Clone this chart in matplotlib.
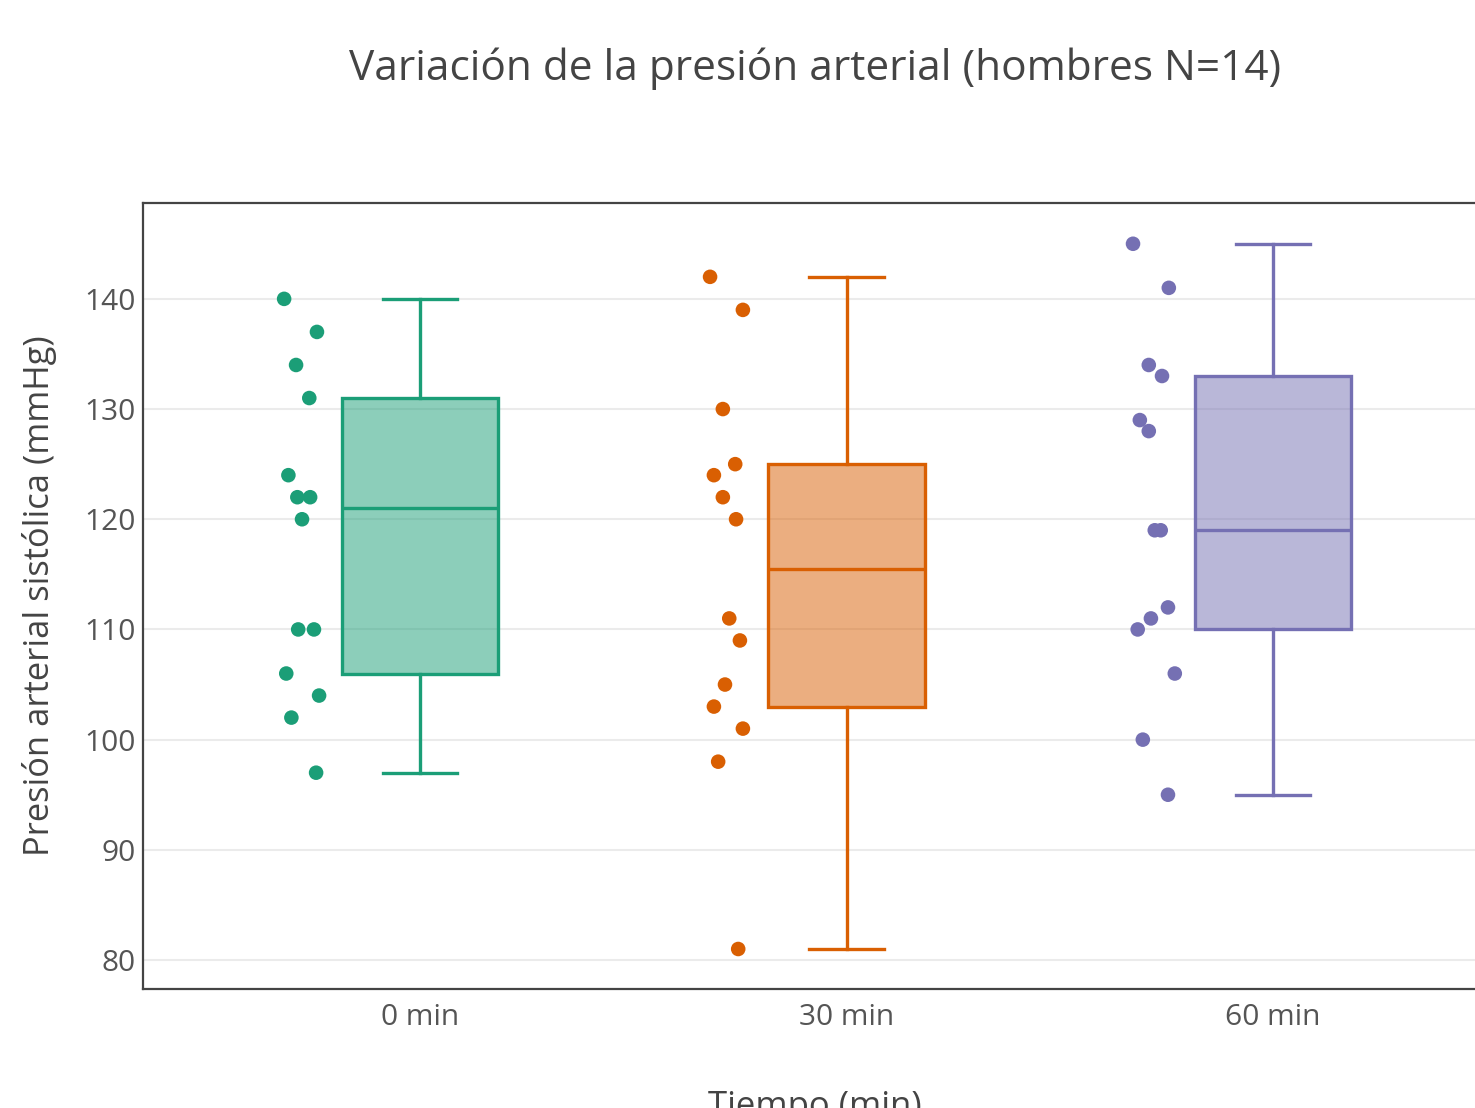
import numpy as np
import matplotlib
matplotlib.use("Agg")
import matplotlib.pyplot as plt

plt.rcParams['font.family'] = ['Open Sans', 'DejaVu Sans']

categories = ["0 min", "30 min", "60 min"]
values_0 = [140, 137, 134, 131, 124, 122, 122, 120, 110, 110, 106, 104, 102, 97]
values_30 = [142, 139, 130, 125, 124, 122, 120, 111, 109, 105, 103, 101, 98, 81]
values_60 = [145, 141, 134, 133, 129, 128, 119, 119, 112, 111, 110, 106, 100, 95]
# horizontal offsets of the shown points (category units)
jitter_0 = [-0.319, -0.242, -0.291, -0.260, -0.309, -0.288, -0.258, -0.277, -0.286, -0.249, -0.314, -0.237, -0.302, -0.244]
jitter_30 = [-0.320, -0.243, -0.290, -0.261, -0.311, -0.290, -0.259, -0.275, -0.250, -0.285, -0.311, -0.243, -0.301, -0.254]
jitter_60 = [-0.328, -0.244, -0.291, -0.260, -0.312, -0.291, -0.277, -0.263, -0.246, -0.286, -0.317, -0.230, -0.305, -0.246]
colors = ["#1b9e77", "#d95f02", "#7570b3"]
yticks = [80, 90, 100, 110, 120, 130, 140]

title = "Variación de la presión arterial (hombres N=14)"
xlabel = "Tiempo (min)"
ylabel = "Presión arterial sistólica (mmHg)"


def box_stats(vals):
    v = np.sort(np.asarray(vals, dtype=float))
    n = len(v)
    med = np.median(v)
    lower = v[: n // 2]
    upper = v[(n + 1) // 2:]
    q1, q3 = np.median(lower), np.median(upper)
    iqr = q3 - q1
    lo = v[v >= q1 - 1.5 * iqr].min()
    hi = v[v <= q3 + 1.5 * iqr].max()
    return dict(med=med, q1=q1, q3=q3, whislo=lo, whishi=hi, fliers=[])


W, H = 1475, 1108
fig = plt.figure(figsize=(W / 100, H / 100), dpi=100)
left, right, top, bottom = 143, 1550, 203, 989
ax = fig.add_axes([left / W, 1 - bottom / H, (right - left) / W, (bottom - top) / H])

all_vals = [values_0, values_30, values_60]
all_jit = [jitter_0, jitter_30, jitter_60]
positions = np.arange(len(categories))

ax.set_axisbelow(True)
ax.grid(axis='y', color='#ebebeb', linewidth=1.5)

for i, (vals, jit, col) in enumerate(zip(all_vals, all_jit, colors)):
    st = box_stats(vals)
    ax.bxp([st], positions=[positions[i]], widths=0.366, capwidths=[0.174],
           patch_artist=True, showfliers=False,
           boxprops=dict(facecolor=matplotlib.colors.to_rgba(col, 0.5), edgecolor=col, linewidth=2.4),
           medianprops=dict(color=col, linewidth=2.4),
           whiskerprops=dict(color=col, linewidth=2.4),
           capprops=dict(color=col, linewidth=2.4))
    ax.scatter(positions[i] + np.asarray(jit), vals, s=110, color=col, edgecolors='none', zorder=4)

ax.set_xlim(-0.65, 2.65)
ax.set_ylim(77.37, 148.7)
ax.set_xticks(positions)
ax.set_xticklabels(categories)
ax.set_yticks(yticks)
ax.tick_params(axis='both', length=0, labelsize=21.5, colors='#555555')
ax.tick_params(axis='x', pad=10)
ax.tick_params(axis='y', pad=5)
for sp in ax.spines.values():
    sp.set_color('#444444')
    sp.set_linewidth(1.6)

fig.text(815 / W, 1 - 69 / H, title, ha='center', va='center', fontsize=30.5, color='#444444')
fig.text(815 / W, 1 - 1107 / H, xlabel, ha='center', va='center', fontsize=25, color='#444444')
fig.text(40 / W, 1 - 596 / H, ylabel, ha='center', va='center', rotation=90, fontsize=24.8, color='#444444')

fig.savefig("out.png", dpi=100)
